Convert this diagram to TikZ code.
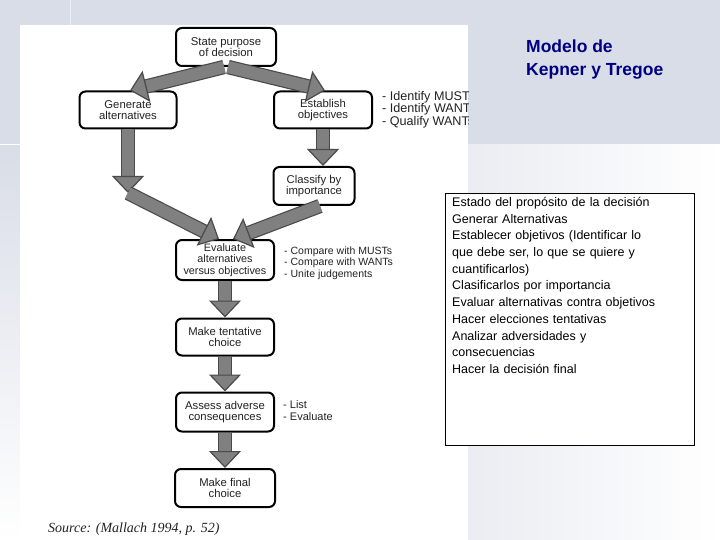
\documentclass[tikz,border=0pt]{standalone}
\usepackage{fontspec}
\setmainfont{Liberation Sans}
\newfontfamily\serifit{Liberation Serif}
\usetikzlibrary{arrows.meta}
\definecolor{bg}{HTML}{D9DDE7}
\definecolor{arrgray}{HTML}{808080}
\definecolor{arrdark}{HTML}{4A4A4A}
\definecolor{navy}{HTML}{000080}
\definecolor{txt}{HTML}{222222}
\begin{document}
\begin{tikzpicture}[x=1pt,y=-1pt,
  stepbox/.style={draw=black, line width=2pt, rounded corners=6pt, fill=white,
    align=center, inner sep=2pt, text=txt,
    font=\fontsize{11.3}{11.5}\selectfont},
  sidenote/.style={anchor=west, align=left, inner sep=0pt, text=txt,
    font=\fontsize{10.5}{11.5}\selectfont},
  bigarrow/.style={line width=12pt, draw=arrgray,
    -{Triangle[width=32pt,length=17pt,color=arrdark,fill=arrgray,line width=1.2pt]},
    preaction={draw=arrdark, line width=14.4pt, arrows=-, shorten >=15pt}},
]
\useasboundingbox (0,0) rectangle (720,540);
% background
\fill[bg] (0,0) rectangle (720,540);
\shade[left color=bg!55!white, right color=white] (468,145) rectangle (720,540);
\shade[top color=bg, bottom color=white] (0,146) rectangle (20,540);
\draw[white, line width=1.5pt] (0,144.5) -- (20,144.5);
\draw[bg!50!white, line width=1pt] (70,0) -- (70,25);
\fill[white] (20,25) rectangle (468,540);

% flowchart nodes
\node[stepbox, minimum width=100, minimum height=38] (state) at (226,47) {State purpose\\of decision};
\node[stepbox, minimum width=97, minimum height=37] (gen) at (128,110) {Generate\\alternatives};
\node[stepbox, minimum width=98, minimum height=37] (est) at (323,110) {Establish\\objectives};
\node[stepbox, minimum width=81, minimum height=38] (cls) at (314,186) {Classify by\\importance};
\node[stepbox, minimum width=98, minimum height=40, font=\fontsize{10.8}{11.5}\selectfont] (eval) at (225,260) {Evaluate\\alternatives\\versus objectives};
\node[stepbox, minimum width=98, minimum height=37] (tent) at (225,337) {Make tentative\\choice};
\node[stepbox, minimum width=98, minimum height=39] (assess) at (225,412) {Assess adverse\\consequences};
\node[stepbox, minimum width=100, minimum height=38] (final) at (225,488) {Make final\\choice};

\coordinate (j1) at (128,193);

% connectors
\draw[bigarrow] ([xshift=-2pt]state.south) -- ([xshift=2pt]gen.north);
\draw[bigarrow] ([xshift=2pt]state.south) -- ([xshift=2pt]est.north);
\draw[bigarrow] (gen.south) -- (j1);
\draw[bigarrow] (j1) -- ([xshift=-6pt]eval.north);
\draw[bigarrow] ([xshift=6pt]cls.south) -- ([xshift=8pt]eval.north);
\draw[bigarrow] (est.south) -- (est.south |- cls.north);
\draw[bigarrow] (eval.south) -- (tent.north);
\draw[bigarrow] (tent.south) -- (assess.north);
\draw[bigarrow] (assess.south) -- (final.north);

% side notes
\begin{scope}
\clip (20,25) rectangle (468,540);
\node[sidenote, font=\fontsize{12.6}{11.5}\selectfont] (noteest) at (382,109.5) {- Identify MUSTs\\- Identify WANTs\\- Qualify WANTs};
\end{scope}
\node[sidenote] (noteeval) at (284,263) {- Compare with MUSTs\\- Compare with WANTs\\- Unite judgements};
\node[sidenote, font=\fontsize{11}{11.5}\selectfont] (noteass) at (283,410.5) {- List\\- Evaluate};

\node[anchor=base west, inner sep=0pt, font=\serifit\itshape\fontsize{14}{16}\selectfont, text=txt] (src) at (48,532) {Source: (Mallach 1994, p. 52)};

% title
\node[anchor=base west, inner sep=0pt, text=navy, font=\bfseries\fontsize{17.5}{20}\selectfont] (title1) at (526,53) {Modelo de};
\node[anchor=base west, inner sep=0pt, text=navy, font=\bfseries\fontsize{17.5}{20}\selectfont] (title2) at (526,76) {Kepner y Tregoe};

% description box
\node[draw=black, line width=1pt, fill=white, anchor=north west, minimum width=249, minimum height=252, inner sep=0pt] (frame) at (445,193) {};
\node[anchor=north west, inner sep=0pt, align=left, text width=238, font=\fontsize{12.5}{16.7}\selectfont, text=black] (desc) at (452,197) {Estado del propósito de la decisión\\
Generar Alternativas\\
Establecer objetivos (Identificar lo\\
que debe ser, lo que se quiere y\\
cuantificarlos)\\
Clasificarlos por importancia\\
Evaluar alternativas contra objetivos\\
Hacer elecciones tentativas\\
Analizar adversidades y\\
consecuencias\\
Hacer la decisión final};
\end{tikzpicture}
\end{document}
